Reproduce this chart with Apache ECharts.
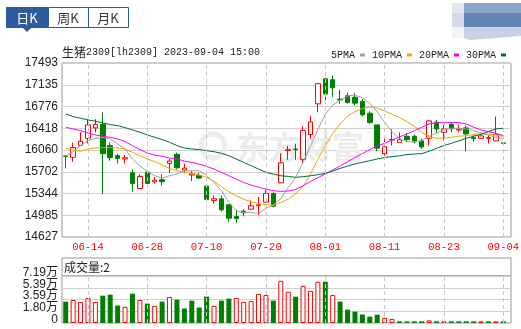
<!DOCTYPE html>
<html><head><meta charset="utf-8">
<script src="https://cdn.jsdelivr.net/npm/echarts@6/dist/echarts.min.js"></script>
<style>html,body{margin:0;padding:0;background:#fff}#c{width:521px;height:329px}</style>
</head><body><div id="c"></div>
<script>
const dates = ['06-09','06-12','06-13','06-14','06-15','06-16','06-19','06-20','06-21','06-26','06-27','06-28','06-29','06-30',
'07-03','07-04','07-05','07-06','07-07','07-10','07-11','07-12','07-13','07-14','07-17','07-18','07-19','07-20','07-21','07-24','07-25','07-26','07-27','07-28','07-31',
'08-01','08-02','08-03','08-04','08-07','08-08','08-09','08-10','08-11','08-14','08-15','08-16','08-17','08-18','08-21','08-22','08-23','08-24','08-25','08-28','08-29','08-30','08-31',
'09-01','09-04'];
const xLabels = ['06-14','06-28','07-10','07-20','08-01','08-11','08-23','09-04'];
const yLabels = ['14627','14985','15344','15702','16060','16418','16776','17135','17493'];
const volLabels = ['0','1.80万','3.59万','5.39万','7.19万'];

const opens = [15960,15939,16137,16253,16424,16479,16132,15966,15911,15685,
 15426,15696,15537,15570,15840,15988,15730,15647,15641,15465,
 15229,15256,15157,14964,15053,15086,15141,15201,15344,15520,
 16049,16077,15905,16315,16821,17232,17218,16898,16953,16928,
 16860,16666,16473,15997,16225,16185,16286,16286,16209,16253,
 16518,16352,16484,16391,16424,16264,16253,16253,16209,16176];
const closes = [15955,16099,16203,16473,16479,15999,15933,15922,15933,15509,
 15624,15509,15564,15537,15878,15768,15762,15669,15597,15245,
 15256,15075,14936,14930,15025,15141,15157,15344,15135,15851,
 16066,16066,16383,16522,17152,16981,17085,16885,16843,16832,
 16639,16515,16090,16113,16235,16230,16231,16209,16110,16540,
 16407,16407,16407,16407,16325,16248,16292,16264,16314,16170];
const lows = [15757,15867,16137,16170,16352,15333,15884,15840,15840,15377,
 15426,15465,15509,15476,15685,15740,15696,15548,15586,15218,
 15174,15047,14881,14854,14964,15086,14985,15201,15119,15520,
 15900,15900,15834,16246,16680,16880,16935,16821,16821,16796,
 16612,16490,16040,15966,16132,16185,16198,16170,16082,16137,
 16336,16215,16352,16352,16038,16198,16240,16165,16209,16165];
const highs = [15977,16181,16352,16556,16567,16677,16187,15994,15977,15740,
 15658,15718,15614,15658,15911,16016,15834,15713,15685,15493,
 15311,15311,15168,15075,15086,15229,15284,15410,15366,16005,
 16126,16165,16451,16626,17163,17245,17284,17050,17010,17000,
 16900,16700,16473,16258,16400,16352,16341,16314,16248,16556,
 16556,16473,16512,16473,16462,16303,16300,16303,16611,16180];

const ma5 = [15960,16032,16132,16214,16253,16269,16242,16159,16077,15911,
 15801,15707,15636,15597,15636,15663,15718,15718,15718,15636,
 15526,15388,15195,15058,15030,15030,15019,15097,15151,15261,
 15443,15610,15860,16120,16400,16650,16800,16880,16950,16965,
 16920,16830,16690,16520,16360,16250,16198,16187,16214,16286,
 16341,16396,16418,16418,16407,16380,16341,16308,16269,16242];
const ma10 = [16088,16060,16040,16077,16093,16099,16099,16093,16077,16021,
 15966,15911,15867,15812,15757,15718,15691,15680,15647,15608,
 15542,15459,15371,15305,15250,15206,15179,15157,15151,15195,
 15250,15340,15460,15660,15905,16130,16330,16490,16620,16690,
 16745,16770,16750,16705,16650,16595,16528,16451,16352,16286,
 16253,16253,16269,16286,16297,16314,16325,16325,16308,16286];
const ma20 = [16435,16407,16380,16341,16308,16286,16269,16242,16198,16132,
 16066,16010,15977,15955,15928,15911,15878,15856,15828,15790,
 15746,15691,15636,15581,15526,15481,15448,15415,15390,15378,
 15385,15410,15470,15540,15605,15665,15730,15796,15865,15935,
 16000,16070,16125,16170,16225,16275,16324,16378,16434,16489,
 16511,16515,16515,16511,16490,16435,16391,16363,16336,16297];
const ma30 = [16655,16611,16583,16556,16534,16506,16479,16462,16429,16391,
 16352,16308,16269,16231,16187,16132,16093,16077,16066,16049,
 16032,16005,15966,15911,15856,15801,15746,15691,15663,15636,
 15625,15610,15620,15636,15653,15675,15713,15757,15796,15829,
 15857,15884,15912,15935,15950,15965,15985,15993,16000,16040,
 16088,16132,16170,16209,16253,16286,16319,16363,16407,16418];

const volume = [3.27,3.52,3.22,3.83,3.22,4.18,4.33,2.67,2.47,4.48,
 3.52,2.97,2.62,3.27,3.98,3.57,2.22,3.42,2.37,4.03,
 2.62,3.42,3.73,3.83,3.22,3.37,4.43,4.28,3.42,6.45,
 4.77,4.03,5.69,4.92,6.30,6.32,4.28,3.27,2.04,1.74,
 1.30,0.97,1.28,0.78,0.62,0.25,0.25,0.25,0.25,0.40,
 0.25,0.25,0.25,0.25,0.25,0.25,0.25,0.25,0.25,0.25];
const volUp = [0,1,1,1,1,0,0,0,1,0, 1,0,1,0,1,0,0,0,0,0, 1,0,0,1,1,1,1,1,0,1,
 1,0,1,1,1,0,1,0,0,0, 0,0,0,1,1,0,0,0,0,1, 0,1,0,0,0,0,1,0,1,0];

const RED = '#ff0000', GREEN = '#008000';
const Y_MIN = 14627, Y_MAX = 17493, Y_INT = (Y_MAX - Y_MIN) / 8;
const V_MAX = 7.19, V_INT = V_MAX / 4;
const MONO = '"Liberation Mono", "DejaVu Sans Mono", monospace';
const CJK = '"Noto Sans CJK SC", sans-serif';

const candleData = dates.map((d, i) => [opens[i], closes[i], lows[i], highs[i]]);
const volData = volume.map((v, i) => ({
  value: v,
  itemStyle: volUp[i] ? {color: '#fff', borderColor: RED, borderWidth: 1} : {color: GREEN, borderWidth: 0}
}));
const vLines = {
  silent: true, symbol: ['none', 'none'], label: {show: false}, animation: false,
  lineStyle: {color: '#c8c8c8', type: [4, 3], width: 1},
  emphasis: {disabled: true},
  data: xLabels.map(d => ({xAxis: d}))
};
const ob = {outerBoundsMode: 'none'};
const volLabelStyle = (parity, splitShow) => ({
  gridIndex: 3, type: 'value', position: 'left', offset: 0, min: 0, max: V_MAX, interval: V_INT,
  axisLine: {show: false}, axisTick: {show: false},
  splitLine: {show: splitShow, lineStyle: {color: '#d0d0d0', width: 1}},
  axisLabel: {color: '#222', fontFamily: '"Liberation Sans", Arial, "Noto Sans CJK SC", sans-serif', fontSize: 12, margin: 4,
    showMinLabel: true, showMaxLabel: true, hideOverlap: false,
    verticalAlign: 'bottom', lineHeight: 7,
    formatter: v => { const k = Math.round(v / V_INT); return k % 2 === parity ? volLabels[k] : ''; }}
});

const chart = echarts.init(document.getElementById('c'), null, {renderer: 'canvas'});
chart.setOption({
  animation: false,
  backgroundColor: '#fff',
  grid: [
    Object.assign({left: 62, top: 63, width: 449, height: 174, show: true, borderColor: '#999', borderWidth: 1, backgroundColor: 'transparent'}, ob),
    Object.assign({left: 62, top: 63, width: 445, height: 174}, ob),
    Object.assign({left: 62, top: 258, width: 449, height: 18, show: true, borderColor: '#999', borderWidth: 1, backgroundColor: 'transparent'}, ob),
    Object.assign({left: 62, top: 276, width: 449, height: 47, show: true, borderColor: '#999', borderWidth: 1, backgroundColor: 'transparent'}, ob),
    Object.assign({left: 62, top: 276, width: 445, height: 47}, ob)
  ],
  xAxis: [
    {gridIndex: 0, type: 'value', min: 0, max: 1, show: false},
    {gridIndex: 1, type: 'category', data: dates, boundaryGap: true,
     axisLine: {show: false}, axisTick: {show: false}, splitLine: {show: false},
     axisLabel: {interval: (i, v) => xLabels.indexOf(v) >= 0, color: RED, fontFamily: MONO, fontSize: 10.5, margin: 5}},
    {gridIndex: 2, type: 'value', min: 0, max: 1, show: false},
    {gridIndex: 3, type: 'value', min: 0, max: 1, show: false},
    {gridIndex: 4, type: 'category', data: dates, boundaryGap: true, show: false}
  ],
  yAxis: [
    {gridIndex: 0, type: 'value', min: Y_MIN, max: Y_MAX, interval: Y_INT,
     axisLine: {show: false}, axisTick: {show: false},
     splitLine: {show: true, lineStyle: {color: '#d0d0d0', width: 1}},
     axisLabel: {color: '#222', fontFamily: '"Liberation Sans", Arial, sans-serif', fontSize: 12, margin: 4,
       showMinLabel: true, showMaxLabel: true, hideOverlap: false,
       formatter: v => yLabels[Math.round((v - Y_MIN) / Y_INT)]}},
    {gridIndex: 1, type: 'value', min: Y_MIN, max: Y_MAX, show: false},
    {gridIndex: 2, type: 'value', min: 0, max: 1, show: false},
    volLabelStyle(0, true),
    {gridIndex: 4, type: 'value', min: 0, max: V_MAX, show: false},
    volLabelStyle(1, false)
  ],
  legend: {
    data: ['5PMA', '10PMA', '20PMA', '30PMA'], selectedMode: false,
    left: 326, top: 45, align: 'right', icon: 'rect', itemWidth: 5, itemHeight: 3, itemGap: 7,
    textStyle: {color: '#222', fontFamily: MONO, fontSize: 10, padding: 0}
  },
  series: [
    {type: 'candlestick', name: 'K', xAxisIndex: 1, yAxisIndex: 1, data: candleData, barWidth: 5,
     itemStyle: {color: '#fff', color0: GREEN, borderColor: RED, borderColor0: GREEN, borderWidth: 1},
     markLine: vLines, z: 3},
    {type: 'line', name: '5PMA', xAxisIndex: 1, yAxisIndex: 1, data: ma5, showSymbol: false, symbol: 'none',
     lineStyle: {color: '#a0a0a0', width: 1}, itemStyle: {color: '#a0a0a0'}, z: 4},
    {type: 'line', name: '10PMA', xAxisIndex: 1, yAxisIndex: 1, data: ma10, showSymbol: false, symbol: 'none',
     lineStyle: {color: '#f5a300', width: 1}, itemStyle: {color: '#f5a300'}, z: 4},
    {type: 'line', name: '20PMA', xAxisIndex: 1, yAxisIndex: 1, data: ma20, showSymbol: false, symbol: 'none',
     lineStyle: {color: '#ff00ff', width: 1}, itemStyle: {color: '#ff00ff'}, z: 4},
    {type: 'line', name: '30PMA', xAxisIndex: 1, yAxisIndex: 1, data: ma30, showSymbol: false, symbol: 'none',
     lineStyle: {color: '#006e36', width: 1}, itemStyle: {color: '#006e36'}, z: 4},
    {type: 'bar', name: 'VOL', xAxisIndex: 4, yAxisIndex: 4, data: volData, barWidth: 5,
     markLine: vLines, z: 3}
  ],
  graphic: [
    {type: 'circle', shape: {cx: 213, cy: 146, r: 12}, style: {fill: 'none', stroke: '#ececec', lineWidth: 5}, z: 1, silent: true},
    {type: 'text', x: 236, y: 147, style: {text: '东方财富', font: 'bold 32px "Noto Sans CJK SC"', fill: '#ececec', verticalAlign: 'middle'}, z: 1, silent: true},
    {type: 'rect', shape: {x: 6, y: 7, width: 42, height: 21}, style: {fill: '#2d5b9c'}, z: 10},
    {type: 'polygon', shape: {points: [[23, 28], [31, 28], [27, 32]]}, style: {fill: '#2d5b9c'}, z: 10},
    {type: 'rect', shape: {x: 48.5, y: 7.5, width: 40, height: 20}, style: {fill: '#fff', stroke: '#2d5b9c', lineWidth: 1}, z: 10},
    {type: 'rect', shape: {x: 88.5, y: 7.5, width: 40, height: 20}, style: {fill: '#fff', stroke: '#2d5b9c', lineWidth: 1}, z: 10},
    {type: 'text', x: 27, y: 18, style: {text: '日K', font: '13px "Noto Sans CJK SC"', fill: '#fff', align: 'center', verticalAlign: 'middle'}, z: 11},
    {type: 'text', x: 68, y: 18, style: {text: '周K', font: '13px "Noto Sans CJK SC"', fill: '#333', align: 'center', verticalAlign: 'middle'}, z: 11},
    {type: 'text', x: 108, y: 18, style: {text: '月K', font: '13px "Noto Sans CJK SC"', fill: '#333', align: 'center', verticalAlign: 'middle'}, z: 11},
    {type: 'text', x: 62, y: 52, style: {text: '生猪', font: '12px ' + CJK, fill: '#222', verticalAlign: 'middle'}, z: 10},
    {type: 'text', x: 86, y: 52, style: {text: '2309[lh2309] 2023-09-04 15:00', font: '10px ' + MONO, fill: '#222', verticalAlign: 'middle'}, z: 10},
    {type: 'text', x: 64, y: 267, style: {text: '成交量:2', font: '12px ' + CJK, fill: '#222', verticalAlign: 'middle'}, z: 10},
    {type: 'rect', shape: {x: 452, y: 3, width: 12, height: 10}, style: {fill: '#e3e8f0'}, z: 10},
    {type: 'rect', shape: {x: 452, y: 13, width: 12, height: 14}, style: {fill: '#d3dbe9'}, z: 10},
    {type: 'rect', shape: {x: 452, y: 27, width: 12, height: 11}, style: {fill: '#f1f3f7'}, z: 10},
    {type: 'rect', shape: {x: 464, y: 3, width: 57, height: 10}, style: {fill: '#8fa4c9'}, z: 10},
    {type: 'rect', shape: {x: 464, y: 13, width: 57, height: 14}, style: {fill: '#6384b7'}, z: 10},
    {type: 'polygon', shape: {points: [[464, 27], [521, 27], [521, 36], [470, 40], [464, 38]]}, style: {fill: '#c7d2e5'}, z: 10}
  ]
});
</script></body></html>
